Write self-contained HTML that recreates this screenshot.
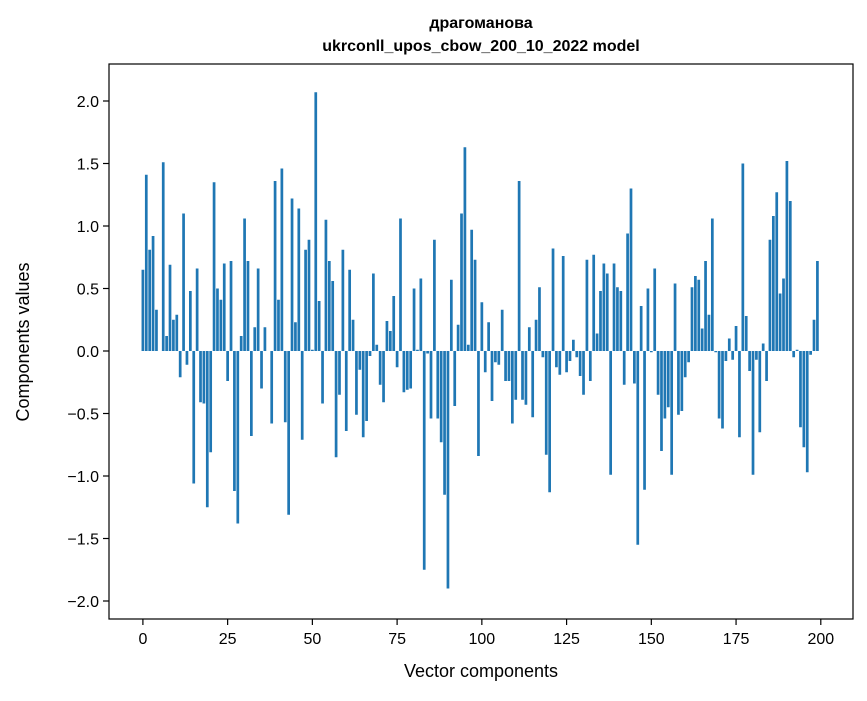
<!DOCTYPE html>
<html><head><meta charset="utf-8"><style>
body{margin:0;background:#fff;}
svg text{font-family:"Liberation Sans","DejaVu Sans",sans-serif;fill:#000;}
</style></head><body>
<svg id="chart" width="867" height="696" xmlns="http://www.w3.org/2000/svg">
<rect width="867" height="696" fill="#fff"/>
<text x="481" y="28" text-anchor="middle" font-size="16" font-weight="bold">драгоманова</text>
<text x="481" y="51" text-anchor="middle" font-size="16" font-weight="bold">ukrconll_upos_cbow_200_10_2022 model</text>
<g id="bars"></g>
<g id="axes"></g>
<text x="481" y="677" text-anchor="middle" font-size="18">Vector components</text>
<text transform="translate(29,342) rotate(-90)" text-anchor="middle" font-size="18">Components values</text>
</svg>
<script>
const values = [0.65,1.41,0.81,0.92,0.33,0.0,1.51,0.12,0.69,0.25,0.29,-0.21,1.1,-0.11,0.48,-1.06,0.66,-0.41,-0.42,-1.25,
-0.81,1.35,0.5,0.41,0.7,-0.24,0.72,-1.12,-1.38,0.12,1.06,0.72,-0.68,0.19,0.66,-0.3,0.19,0.0,-0.58,1.36,
0.41,1.46,-0.57,-1.31,1.22,0.23,1.14,-0.71,0.81,0.89,0.01,2.07,0.4,-0.42,1.05,0.72,0.56,-0.85,-0.35,0.81,
-0.64,0.65,0.25,-0.51,-0.15,-0.69,-0.56,-0.04,0.62,0.05,-0.27,-0.41,0.24,0.16,0.44,-0.13,1.06,-0.33,-0.31,-0.3,
0.5,0.01,0.58,-1.75,-0.02,-0.54,0.89,-0.54,-0.73,-1.15,-1.9,0.57,-0.44,0.21,1.1,1.63,0.05,0.97,0.73,-0.84,
0.39,-0.17,0.23,-0.4,-0.09,-0.11,0.33,-0.24,-0.24,-0.58,-0.39,1.36,-0.39,-0.43,0.19,-0.53,0.25,0.51,-0.05,-0.83,
-1.13,0.82,-0.13,-0.19,0.76,-0.17,-0.08,0.09,-0.05,-0.2,-0.35,0.73,-0.24,0.77,0.14,0.48,0.7,0.62,-0.99,0.7,
0.51,0.48,-0.27,0.94,1.3,-0.26,-1.55,0.36,-1.11,0.5,-0.01,0.66,-0.35,-0.8,-0.54,-0.45,-0.99,0.54,-0.51,-0.48,
-0.21,-0.09,0.51,0.6,0.57,0.18,0.72,0.29,1.06,-0.01,-0.54,-0.62,-0.08,0.1,-0.07,0.2,-0.69,1.5,0.28,-0.16,
-0.99,-0.07,-0.65,0.06,-0.24,0.89,1.08,1.27,0.46,0.58,1.52,1.2,-0.05,0.01,-0.61,-0.77,-0.97,-0.03,0.25,0.72];
const xTicks = [0,25,50,75,100,125,150,175,200];
const yTicks = [-2.0,-1.5,-1.0,-0.5,0.0,0.5,1.0,1.5,2.0];
const yTickLabels = ["\u22122.0","\u22121.5","\u22121.0","\u22120.5","0.0","0.5","1.0","1.5","2.0"];

const L=109,R=853,T=64,B=619;
const xMin=-10.0,xMax=209.5;
const yZero=351,yScale=125;
function xs(v){return L+(v-xMin)/(xMax-xMin)*(R-L);}
function ys(v){return yZero-v*yScale;}
const NS="http://www.w3.org/2000/svg";
const bars=document.getElementById('bars');
values.forEach((v,i)=>{
  const r=document.createElementNS(NS,'rect');
  const x0=xs(i-0.4),x1=xs(i+0.4);
  const y0=ys(Math.max(v,0)),y1=ys(Math.min(v,0));
  r.setAttribute('x',x0);r.setAttribute('width',x1-x0);
  r.setAttribute('y',y0);r.setAttribute('height',Math.max(y1-y0,0));
  r.setAttribute('fill','#1f77b4');
  
  
  bars.appendChild(r);
});
const axes=document.getElementById('axes');
const frame=document.createElementNS(NS,'rect');
frame.setAttribute('x',L);frame.setAttribute('y',T);frame.setAttribute('width',R-L);frame.setAttribute('height',B-T);
frame.setAttribute('fill','none');frame.setAttribute('stroke','#000');frame.setAttribute('stroke-width','1.2');


axes.appendChild(frame);
xTicks.forEach(t=>{
  const x=xs(t);
  const l=document.createElementNS(NS,'line');
  l.setAttribute('x1',x);l.setAttribute('x2',x);l.setAttribute('y1',B);l.setAttribute('y2',B+6);
  l.setAttribute('stroke','#000');l.setAttribute('stroke-width','1.2');
  
  
  axes.appendChild(l);
  const tx=document.createElementNS(NS,'text');
  tx.setAttribute('x',x);tx.setAttribute('y',B+25);tx.setAttribute('text-anchor','middle');tx.setAttribute('font-size','16');
  tx.textContent=t;
  
  
  axes.appendChild(tx);
});
yTicks.forEach((t,i)=>{
  const y=ys(t);
  const l=document.createElementNS(NS,'line');
  l.setAttribute('x1',L-6);l.setAttribute('x2',L);l.setAttribute('y1',y);l.setAttribute('y2',y);
  l.setAttribute('stroke','#000');l.setAttribute('stroke-width','1.2');
  
  
  axes.appendChild(l);
  const tx=document.createElementNS(NS,'text');
  tx.setAttribute('x',L-10);tx.setAttribute('y',y+6);tx.setAttribute('text-anchor','end');tx.setAttribute('font-size','16');
  tx.textContent=yTickLabels[i];
  
  
  axes.appendChild(tx);
});
</script>
</body></html>
